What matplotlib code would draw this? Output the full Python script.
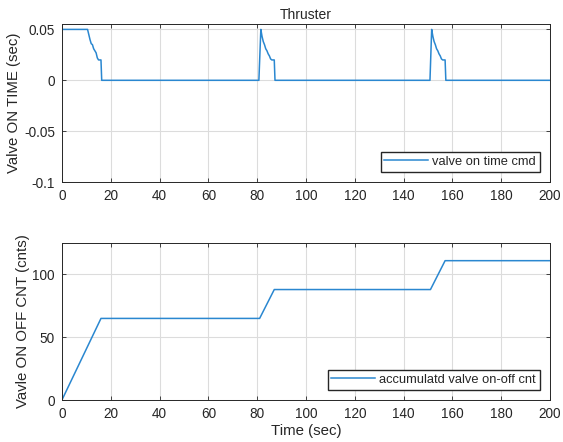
import matplotlib.pyplot as plt
import numpy as np

# 数据：阀门开启时间指令 (sec)
t_cmd = [0, 10.5, 11.0, 11.5, 12.0, 12.5, 13.0, 13.5, 14.0, 14.5, 15.0, 15.5, 16.0, 16.3,
         80.7, 81.5, 82.0, 82.5, 83.0, 83.5, 84.0, 84.5, 85.0, 85.5, 86.0, 86.5, 87.0, 87.3,
         150.8, 151.5, 152.0, 152.5, 153.0, 153.5, 154.0, 154.5, 155.0, 155.5, 156.0, 156.5, 157.0, 157.3,
         200]
v_cmd = [0.05, 0.05, 0.045, 0.040, 0.036, 0.035, 0.031, 0.029, 0.027, 0.022, 0.020, 0.020, 0.020, 0.0,
         0.0, 0.05, 0.043, 0.038, 0.035, 0.031, 0.029, 0.026, 0.024, 0.021, 0.020, 0.020, 0.020, 0.0,
         0.0, 0.05, 0.043, 0.038, 0.035, 0.031, 0.029, 0.026, 0.024, 0.021, 0.020, 0.020, 0.020, 0.0,
         0.0]

# 数据：累计开关次数 (cnts)
t_cnt = [0, 16, 81, 87, 151, 157, 200]
v_cnt = [0, 65, 65, 88, 88, 111, 111]

x_ticks = np.arange(0, 201, 20)

plt.rcParams['font.family'] = ['Liberation Sans', 'DejaVu Sans']
line_color = '#2a87d0'
text_color = '#262626'

fig = plt.figure(figsize=(5.63, 4.42), dpi=100)
ax1 = fig.add_axes([0.110, 0.588, 0.867, 0.357])
ax2 = fig.add_axes([0.110, 0.095, 0.867, 0.355])


def style(ax):
    ax.set_xlim(0, 200)
    ax.set_xticks(x_ticks)
    ax.grid(True, color='#dcdcdc', linewidth=0.8)
    ax.set_axisbelow(True)
    ax.tick_params(direction='in', top=True, right=True, labelsize=9.8,
                   colors=text_color, length=3, width=0.6, pad=5)
    for s in ax.spines.values():
        s.set_color('#262626')
        s.set_linewidth(0.7)


ax1.plot(t_cmd, v_cmd, color=line_color, linewidth=1.1, label='valve on time cmd')
style(ax1)
ax1.set_ylim(-0.1, 0.055)
ax1.set_yticks([-0.1, -0.05, 0, 0.05])
ax1.set_yticklabels(['-0.1', '-0.05', '0', '0.05'])
ax1.set_title('Thruster', fontsize=10, color=text_color, pad=4)
ax1.set_ylabel('Valve ON TIME (sec)', fontsize=10.8, color=text_color, labelpad=2)
ax1.legend(loc='lower right', fontsize=9.3, handlelength=3.4, handletextpad=0.3,
           frameon=True, fancybox=False, framealpha=1,
           edgecolor='#262626', borderaxespad=0.8, borderpad=0.3, labelcolor=text_color)

ax2.plot(t_cnt, v_cnt, color=line_color, linewidth=1.1, label='accumulatd valve on-off cnt')
style(ax2)
ax2.set_ylim(0, 125)
ax2.set_yticks([0, 50, 100])
ax2.set_xlabel('Time (sec)', fontsize=10.8, color=text_color, labelpad=2)
ax2.set_ylabel('Vavle ON OFF CNT (cnts)', fontsize=10.8, color=text_color, labelpad=2)
ax2.legend(loc='lower right', fontsize=9.3, handlelength=3.4, handletextpad=0.3,
           frameon=True, fancybox=False, framealpha=1,
           edgecolor='#262626', borderaxespad=0.8, borderpad=0.3, labelcolor=text_color)

plt.savefig('out.png', dpi=100)
